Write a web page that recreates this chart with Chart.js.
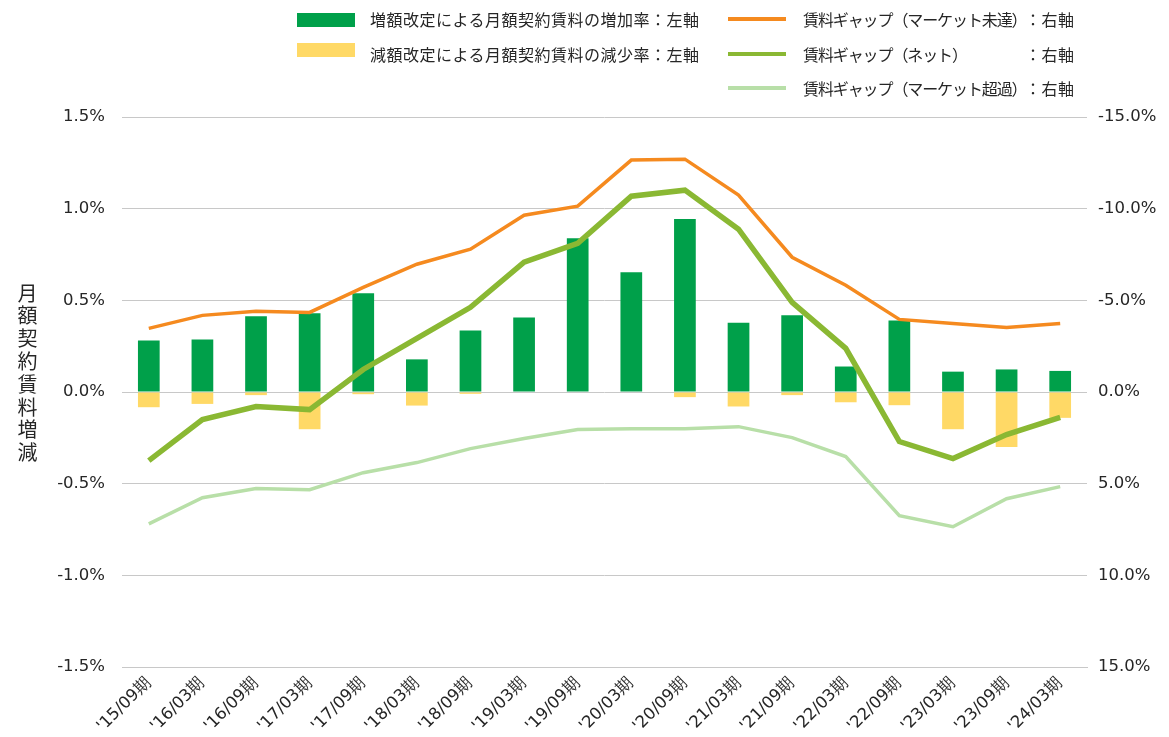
<!DOCTYPE html>
<html lang="ja">
<head>
<meta charset="utf-8">
<script src="https://cdn.jsdelivr.net/npm/chart.js@4"></script>
<style>
  html, body { margin: 0; padding: 0; background: #fff; }
  #wrap { position: relative; width: 1169px; height: 737px; }
  #chart { position: absolute; left: 0; top: 0; }
  .lg { position: absolute; font-family: "Noto Sans CJK JP", sans-serif; font-size: 16px; color: #262626; white-space: nowrap; line-height: 20px; }
  .lg.left { letter-spacing: 0.5px; }
  .lg.right { letter-spacing: -1.1px; }
  .lg.axis { letter-spacing: 0.5px; }
  .sw { position: absolute; }
  #ytitle { position: absolute; left: 13px; top: 283px; font-family: "Noto Sans CJK JP", sans-serif; font-size: 20px; color: #262626;
            writing-mode: vertical-rl; text-orientation: upright; letter-spacing: 2.8px; }
</style>
</head>
<body>
<div id="wrap">
  <canvas id="chart" width="1169" height="737"></canvas>
  <div id="legend"></div>
  <div id="ytitle">月額契約賃料増減</div>
</div>
<script>
const periods = ["'15/09期", "'16/03期", "'16/09期", "'17/03期", "'17/09期", "'18/03期", "'18/09期", "'19/03期", "'19/09期",
                 "'20/03期", "'20/09期", "'21/03期", "'21/09期", "'22/03期", "'22/09期", "'23/03期", "'23/09期", "'24/03期"];

// 左軸 (%)
const increaseRate = [0.281, 0.287, 0.413, 0.43, 0.538, 0.178, 0.335, 0.407, 0.839, 0.653, 0.943, 0.378, 0.418, 0.139, 0.39, 0.111, 0.123, 0.115];
const decreaseRate = [-0.083, -0.065, -0.017, -0.203, -0.012, -0.074, -0.01, 0, 0, 0, -0.028, -0.079, -0.017, -0.056, -0.072, -0.203, -0.30, -0.141];

// 右軸 (%)
const gapUnder = [-3.47, -4.18, -4.40, -4.34, -5.71, -6.97, -7.79, -9.64, -10.14, -12.65, -12.70, -10.74, -7.35, -5.82, -3.96, -3.74, -3.52, -3.74];
const gapNet = [3.74, 1.50, 0.79, 0.96, -1.23, -2.92, -4.62, -7.08, -8.11, -10.68, -11.01, -8.88, -4.89, -2.38, 2.70, 3.63, 2.32, 1.39];
const gapOver = [7.19, 5.77, 5.27, 5.33, 4.40, 3.85, 3.09, 2.54, 2.05, 2.00, 2.00, 1.89, 2.49, 3.52, 6.75, 7.35, 5.82, 5.16];

const leftTicks = [-1.5, -1.0, -0.5, 0, 0.5, 1.0, 1.5];
const rightTicks = [-15, -10, -5, 0, 5, 10, 15];

const colors = {
    up: '#00A04A',
    down: '#FFD966',
    under: '#F58A1F',
    net: '#8AB833',
    over: '#B8DFA8'
};

const names = {
    up: '増額改定による月額契約賃料の増加率：左軸',
    down: '減額改定による月額契約賃料の減少率：左軸',
    under: '賃料ギャップ（マーケット未達）',
    net: '賃料ギャップ（ネット）',
    over: '賃料ギャップ（マーケット超過）'
};

// Legend (HTML)
const legend = document.getElementById('legend');
function addSwatch(x, y, w, h, color) {
    const d = document.createElement('div');
    d.className = 'sw';
    d.style.cssText = `left:${x}px;top:${y}px;width:${w}px;height:${h}px;background:${color}`;
    legend.appendChild(d);
}
function addText(x, y, text, cls) {
    const d = document.createElement('div');
    d.className = 'lg ' + cls;
    d.style.left = x + 'px';
    d.style.top = y + 'px';
    d.textContent = text;
    legend.appendChild(d);
}
addSwatch(297, 13, 58, 14, colors.up);
addText(370, 9, names.up, 'left');
addSwatch(297, 43, 58, 14, colors.down);
addText(370, 44, names.down, 'left');
[['under', 19], ['net', 54], ['over', 88]].forEach(([k, y]) => {
    addSwatch(728, y - 2, 58, 4, colors[k]);
    addText(803, y - 10, names[k], 'right');
    addText(1025, y - 10, '：右軸', 'axis');
});

const tickFont = { family: 'DejaVu Sans', size: 16.5 };

new Chart(document.getElementById('chart'), {
    data: {
        labels: periods,
        datasets: [{
            type: 'line',
            label: names.net,
            data: gapNet,
            yAxisID: 'y2',
            borderColor: colors.net,
            borderWidth: 5.5,
            pointRadius: 0,
            tension: 0,
            order: 0
        }, {
            type: 'line',
            label: names.under,
            data: gapUnder,
            yAxisID: 'y2',
            borderColor: colors.under,
            borderWidth: 3.5,
            pointRadius: 0,
            tension: 0,
            order: 1
        }, {
            type: 'line',
            label: names.over,
            data: gapOver,
            yAxisID: 'y2',
            borderColor: colors.over,
            borderWidth: 3.5,
            pointRadius: 0,
            tension: 0,
            order: 2
        }, {
            type: 'bar',
            label: names.up,
            data: increaseRate,
            yAxisID: 'y',
            backgroundColor: colors.up,
            grouped: false,
            categoryPercentage: 1,
            barPercentage: 0.405,
            order: 3
        }, {
            type: 'bar',
            label: names.down,
            data: decreaseRate,
            yAxisID: 'y',
            backgroundColor: colors.down,
            grouped: false,
            categoryPercentage: 1,
            barPercentage: 0.405,
            order: 4
        }]
    },
    options: {
        responsive: false,
        animation: false,
        layout: { padding: { top: 117, left: 0, right: 0, bottom: 0 } },
        plugins: {
            legend: { display: false },
            tooltip: { enabled: false }
        },
        scales: {
            x: {
                grid: { display: false, drawTicks: false },
                border: { color: '#c8c8c8' },
                ticks: {
                    color: '#262626',
                    font: tickFont,
                    minRotation: 45,
                    maxRotation: 45,
                    padding: 6,
                    autoSkip: false
                },
                afterFit: s => { s.height = 70; }
            },
            y: {
                position: 'left',
                min: leftTicks[0],
                max: leftTicks[leftTicks.length - 1],
                afterBuildTicks: s => { s.ticks = leftTicks.map(v => ({ value: v })); },
                grid: { color: '#c8c8c8', drawTicks: false },
                border: { display: false },
                ticks: {
                    color: '#262626',
                    font: tickFont,
                    padding: 17,
                    callback: v => v.toFixed(1) + '%'
                },
                afterFit: s => { s.width = 122; }
            },
            y2: {
                position: 'right',
                reverse: true,
                min: rightTicks[0],
                max: rightTicks[rightTicks.length - 1],
                afterBuildTicks: s => { s.ticks = rightTicks.map(v => ({ value: v })); },
                grid: { display: false, drawTicks: false },
                border: { display: false },
                ticks: {
                    color: '#262626',
                    font: tickFont,
                    padding: 11,
                    callback: v => v.toFixed(1) + '%'
                },
                afterFit: s => { s.width = 82; }
            }
        }
    }
});
</script>
</body>
</html>
